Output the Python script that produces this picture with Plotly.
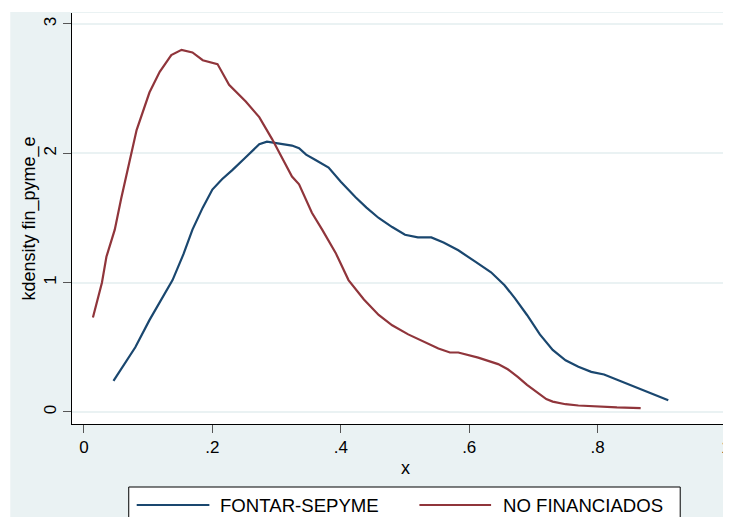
import plotly.graph_objects as go

# kernel density estimates
blue_x = [0.046, 0.06, 0.08, 0.102, 0.12, 0.138, 0.155, 0.169, 0.185, 0.2, 0.215, 0.231, 0.252,
          0.273, 0.285, 0.30, 0.324, 0.335, 0.346, 0.36, 0.381, 0.40, 0.423, 0.44, 0.459, 0.48,
          0.50, 0.52, 0.541, 0.56, 0.583, 0.61, 0.634, 0.655, 0.671, 0.69, 0.71, 0.73, 0.75,
          0.77, 0.79, 0.81, 0.83, 0.85, 0.87, 0.89, 0.91]
blue_y = [0.24, 0.35, 0.50, 0.71, 0.86, 1.02, 1.22, 1.41, 1.58, 1.72, 1.80, 1.87, 1.97,
          2.07, 2.09, 2.08, 2.06, 2.04, 1.99, 1.95, 1.89, 1.78, 1.66, 1.58, 1.50, 1.43,
          1.37, 1.35, 1.35, 1.31, 1.25, 1.16, 1.08, 0.98, 0.88, 0.75, 0.60, 0.48, 0.40,
          0.35, 0.31, 0.29, 0.25, 0.21, 0.17, 0.13, 0.09]

red_x = [0.014, 0.022, 0.028, 0.035, 0.048, 0.058, 0.068, 0.082, 0.102, 0.118, 0.136, 0.152,
         0.169, 0.185, 0.208, 0.226, 0.252, 0.273, 0.293, 0.324, 0.335, 0.355, 0.371, 0.392,
         0.412, 0.436, 0.459, 0.48, 0.505, 0.53, 0.552, 0.57, 0.583, 0.614, 0.645, 0.66,
         0.676, 0.69, 0.707, 0.72, 0.73, 0.75, 0.77, 0.8, 0.83, 0.867]
red_y = [0.73, 0.89, 1.0, 1.2, 1.41, 1.65, 1.87, 2.18, 2.47, 2.63, 2.76, 2.80,
         2.78, 2.72, 2.69, 2.53, 2.40, 2.28, 2.11, 1.82, 1.76, 1.54, 1.41, 1.23,
         1.02, 0.87, 0.75, 0.67, 0.60, 0.54, 0.49, 0.46, 0.46, 0.42, 0.37, 0.33,
         0.27, 0.21, 0.15, 0.10, 0.08, 0.06, 0.05, 0.04, 0.035, 0.03]

series_names = ["FONTAR-SEPYME", "NO FINANCIADOS"]
x_ticks = [0, 0.2, 0.4, 0.6, 0.8, 1]
x_tick_text = ["0", ".2", ".4", ".6", ".8", "1"]
y_ticks = [0, 1, 2, 3]

NAVY = "#1A476F"
MAROON = "#90353B"
BG = "#EAF2F3"
FONT = "Arial, Liberation Sans, sans-serif"

# the page body adds an 8px margin, so the figure is shrunk by that much
OFF = 8
W, H = 731 - OFF, 517 - OFF
L, R, T, B = 72 - OFF, 0, 13 - OFF, 93


def px(x):
    # window pixel column -> paper x
    return (x - OFF - L) / (W - L - R)


def py(y):
    # window pixel row -> paper y
    return (H - B - (y - OFF)) / (H - T - B)


fig = go.Figure()
fig.add_trace(go.Scatter(x=blue_x, y=blue_y, mode="lines", name=series_names[0],
                         line=dict(color=NAVY, width=2.2)))
fig.add_trace(go.Scatter(x=red_x, y=red_y, mode="lines", name=series_names[1],
                         line=dict(color=MAROON, width=2.2)))

shapes = [
    # white strips around the grey graph region (the picture is a crop)
    dict(type="rect", xref="paper", yref="paper", x0=px(0), x1=px(740), y0=py(12), y1=py(0),
         fillcolor="white", line_width=0, layer="below"),
    dict(type="rect", xref="paper", yref="paper", x0=px(0), x1=px(10), y0=py(530), y1=py(0),
         fillcolor="white", line_width=0, layer="below"),
    # legend box
    dict(type="rect", xref="paper", yref="paper", x0=px(129), x1=px(683), y0=py(530), y1=py(487),
         fillcolor="white", line=dict(color="black", width=1)),
    dict(type="line", xref="paper", yref="paper", x0=px(137), x1=px(210), y0=py(505), y1=py(505),
         line=dict(color=NAVY, width=2.2)),
    dict(type="line", xref="paper", yref="paper", x0=px(421), x1=px(493), y0=py(505), y1=py(505),
         line=dict(color=MAROON, width=2.2)),
]

annotations = [
    dict(text=series_names[0], xref="paper", yref="paper", x=px(219), y=py(505),
         xanchor="left", yanchor="middle", showarrow=False, font=dict(size=18.6, color="black")),
    dict(text=series_names[1], xref="paper", yref="paper", x=px(503), y=py(505),
         xanchor="left", yanchor="middle", showarrow=False, font=dict(size=18.6, color="black")),
    dict(text="x", xref="x", yref="paper", x=0.5, y=py(468),
         xanchor="center", yanchor="middle", showarrow=False, font=dict(size=18, color="black")),
]

fig.update_layout(
    width=W, height=H,
    margin=dict(l=L, r=R, t=T, b=B),
    paper_bgcolor=BG, plot_bgcolor="white",
    font=dict(family=FONT, color="black"),
    showlegend=False,
    shapes=shapes, annotations=annotations,
)
fig.update_xaxes(
    range=[-0.0186, 1.003], tickvals=x_ticks, ticktext=x_tick_text,
    showgrid=False, zeroline=False, showline=True, linecolor="black", linewidth=1,
    ticks="outside", ticklen=8, tickcolor="#555", tickwidth=1,
    tickfont=dict(size=17), ticklabeloverflow="allow",
)
fig.update_yaxes(
    range=[-0.093, 3.085], tickvals=y_ticks, tickangle=-90,
    showgrid=True, gridcolor=BG, gridwidth=2, zeroline=False,
    showline=True, linecolor="black", linewidth=1,
    ticks="outside", ticklen=8, tickcolor="#555", tickwidth=1,
    tickfont=dict(size=17), ticklabelstandoff=0,
    title=dict(text="kdensity fin_pyme_e", font=dict(size=18), standoff=0),
)

fig.write_html("out.html")
